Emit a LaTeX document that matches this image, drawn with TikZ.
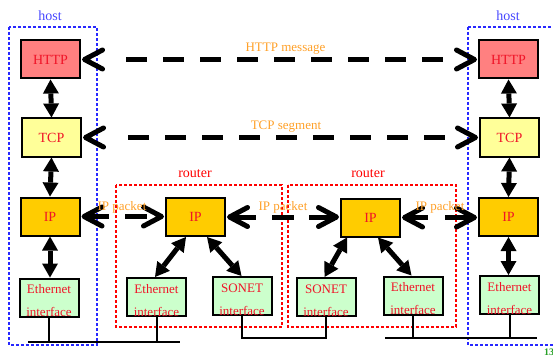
\documentclass[tikz,border=0pt]{standalone}
\usepackage{fontspec}
\setmainfont{Liberation Serif}
\usetikzlibrary{arrows.meta,calc}
\definecolor{httpfill}{RGB}{255,128,128}
\definecolor{tcpfill}{RGB}{255,255,153}
\definecolor{ipfill}{RGB}{255,204,0}
\definecolor{ethfill}{RGB}{204,255,204}
\definecolor{hostblue}{RGB}{40,40,255}
\definecolor{hosttext}{RGB}{70,70,255}
\definecolor{routerred}{RGB}{255,0,0}
\definecolor{boxtext}{RGB}{240,20,40}
\definecolor{msgorange}{RGB}{255,160,40}
\definecolor{pagegreen}{RGB}{40,160,40}
\newcommand\ifacetext[3]{%
  \node[ifont,anchor=base] at ($(#1.north)+(0,16)$) {#2};
  \node[ifont,anchor=base] at ($(#1.north)+(0,39)$) {#3};}
\begin{document}
\begin{tikzpicture}[x=1pt,y=-1pt,
  layer/.style={draw=black,line width=2pt,minimum width=59pt,minimum height=38pt,inner sep=0pt,
    text=boxtext,font=\fontsize{14}{16}\selectfont},
  iface/.style={layer,fill=ethfill},
  ifont/.style={text=boxtext,font=\fontsize{13}{15}\selectfont,inner sep=0pt},
  hostbox/.style={draw=hostblue,line width=2.8pt,dash pattern=on 2.8pt off 2.2pt},
  routerbox/.style={draw=routerred,line width=2.8pt,dash pattern=on 2.8pt off 2.2pt},
  tag/.style={font=\fontsize{14}{16}\selectfont,inner sep=0pt,anchor=base},
  msg/.style={text=msgorange,font=\fontsize{13}{15}\selectfont,inner sep=0pt,anchor=base},
  dline/.style={line width=5pt,dash pattern=#1},
  chev/.style={line width=5pt,line cap=round,line join=round},
  chevl/.pic={\draw[chev] (18,-9.5) -- (0,0) -- (18,9.5);},
  chevr/.pic={\draw[chev] (-18,-9.5) -- (0,0) -- (-18,9.5);},
  varrow/.style={line width=5pt,
    {Triangle[length=14pt,width=16pt,line width=0pt]}-{Triangle[length=14pt,width=16pt,line width=0pt]}},
  bus/.style={line width=2pt}]
\useasboundingbox (0,0) rectangle (553,358);

% enclosures
\draw[hostbox] (9,27) rectangle (97,345);
\draw[hostbox] (468,27) -- (468,345) -- (560,345);
\draw[hostbox] (468,27) -- (560,27);
\draw[routerbox] (116,185) rectangle (282,327);
\draw[routerbox] (288,185) rectangle (456,327);

\node[tag,text=hosttext] (hostL) at (50,21) {host};
\node[tag,text=hosttext] (hostR) at (508,21) {host};
\node[tag,text=routerred] (routerA) at (195,177) {router};
\node[tag,text=routerred] (routerB) at (368,177) {router};

% left host
\node[layer,fill=httpfill] (hH1) at (50.5,59.5) {HTTP};
\node[layer,fill=tcpfill] (hT1) at (51.5,137.5) {TCP};
\node[layer,fill=ipfill] (hI1) at (50,216.5) {IP};
\node[iface] (hE1) at (49,297.5) {};
\ifacetext{hE1}{Ethernet}{interface}

% router 1
\node[layer,fill=ipfill] (r1I) at (195.5,217) {IP};
\node[iface] (r1E) at (156.5,297) {};
\ifacetext{r1E}{Ethernet}{interface}
\node[iface] (r1S) at (242,296) {};
\ifacetext{r1S}{SONET}{interface}

% router 2
\node[layer,fill=ipfill] (r2I) at (370.5,217.5) {IP};
\node[iface] (r2S) at (326,297) {};
\ifacetext{r2S}{SONET}{interface}
\node[iface] (r2E) at (413,295.5) {};
\ifacetext{r2E}{Ethernet}{interface}

% right host
\node[layer,fill=httpfill] (hH2) at (508.5,59.5) {HTTP};
\node[layer,fill=tcpfill] (hT2) at (509.5,137.5) {TCP};
\node[layer,fill=ipfill] (hI2) at (508.5,217) {IP};
\node[iface] (hE2) at (509.5,295) {};
\ifacetext{hE2}{Ethernet}{interface}

% vertical stacks
\draw[varrow] (hH1.south) -- (hT1.north);
\draw[varrow] (hT1.south) -- (hI1.north);
\draw[varrow] (hI1.south) -- (hI1.south |- hE1.north);
\draw[varrow] (hH2.south) -- (hT2.north);
\draw[varrow] (hT2.south) -- (hI2.north);
\draw[varrow] (hI2.south) -- (hI2.south |- hE2.north);

% router internal
\draw[varrow] ([xshift=21pt]r1I.south west) -- ([xshift=29pt]r1E.north west);
\draw[varrow] ([xshift=42pt]r1I.south west) -- ([xshift=30pt]r1S.north west);
\draw[varrow] ([xshift=7pt]r2I.south west) -- ([xshift=29pt]r2S.north west);
\draw[varrow] ([xshift=38pt]r2I.south west) -- ([xshift=29pt]r2E.north west);

% chevron vertices (arrow tips) of peer connectors
\coordinate (m1a) at ([xshift=3.5pt]hH1.east);
\coordinate (m1b) at ([xshift=-3.5pt]hH2.west);
\coordinate (m2a) at ([xshift=3.5pt]hT1.east);
\coordinate (m2b) at ([xshift=-3.5pt]hT2.west);
\coordinate (p1a) at ([xshift=3.5pt]hI1.east);
\coordinate (p1b) at ([xshift=-3.5pt]hI1.east -| r1I.west);
\coordinate (p2a) at ([xshift=3.5pt]r1I.east);
\coordinate (p2b) at ([xshift=-3.5pt]r1I.east -| r2I.west);
\coordinate (p3a) at ([xshift=3.5pt]r2I.east);
\coordinate (p3b) at ([xshift=-3.5pt]r2I.east -| hI2.west);

% peer messages: HTTP and TCP
\draw[dline={on 21pt off 16pt}] ([xshift=41.5pt]m1a) -- ([xshift=-31pt]m1b);
\draw[dline={on 21pt off 16pt}] ([xshift=42.5pt]m2a) -- ([xshift=-30pt]m2b);
% IP packets
\draw[dline={on 25pt off 16pt on 22pt off 100pt}] (p1a) -- (p1b);
\draw[dline={on 26.5pt off 16pt on 22pt off 15pt on 40pt off 100pt}] (p2a) -- (p2b);
\draw[dline={on 23.5pt off 17pt on 40pt off 100pt}] (p3a) -- (p3b);
\foreach \a/\b in {m1a/m1b,m2a/m2b,p1a/p1b,p2a/p2b,p3a/p3b}{
  \pic at (\a) {chevl};
  \pic at (\b) {chevr};
}

\node[msg] (mHTTP) at (285.5,52) {HTTP message};
\node[msg] (mTCP) at (286,130) {TCP segment};
\node[msg] (mIP1) at (122,210) {IP packet};
\node[msg] (mIP2) at (283,210) {IP packet};
\node[msg] (mIP3) at (440,210) {IP packet};

% links
\coordinate (busL1) at (28,342);
\coordinate (busL2) at (180,342);
\draw[bus] (busL1) -- (busL2);
\draw[bus] (hE1.south) -- (hE1.south |- busL1);
\draw[bus] (r1E.south) -- (r1E.south |- busL1);
\draw[bus] (r1S.south) -- ++(0,22) -| (r2S.south);
\coordinate (busR1) at (385,338);
\coordinate (busR2) at (537,338);
\draw[bus] (busR1) -- (busR2);
\draw[bus] (r2E.south) -- (r2E.south |- busR1);
\draw[bus] (hE2.south) -- (hE2.south |- busR1);

\node[text=pagegreen,font=\bfseries\fontsize{10}{12}\selectfont,anchor=west,inner sep=0pt] (pg) at (544,352) {13};
\end{tikzpicture}
\end{document}
